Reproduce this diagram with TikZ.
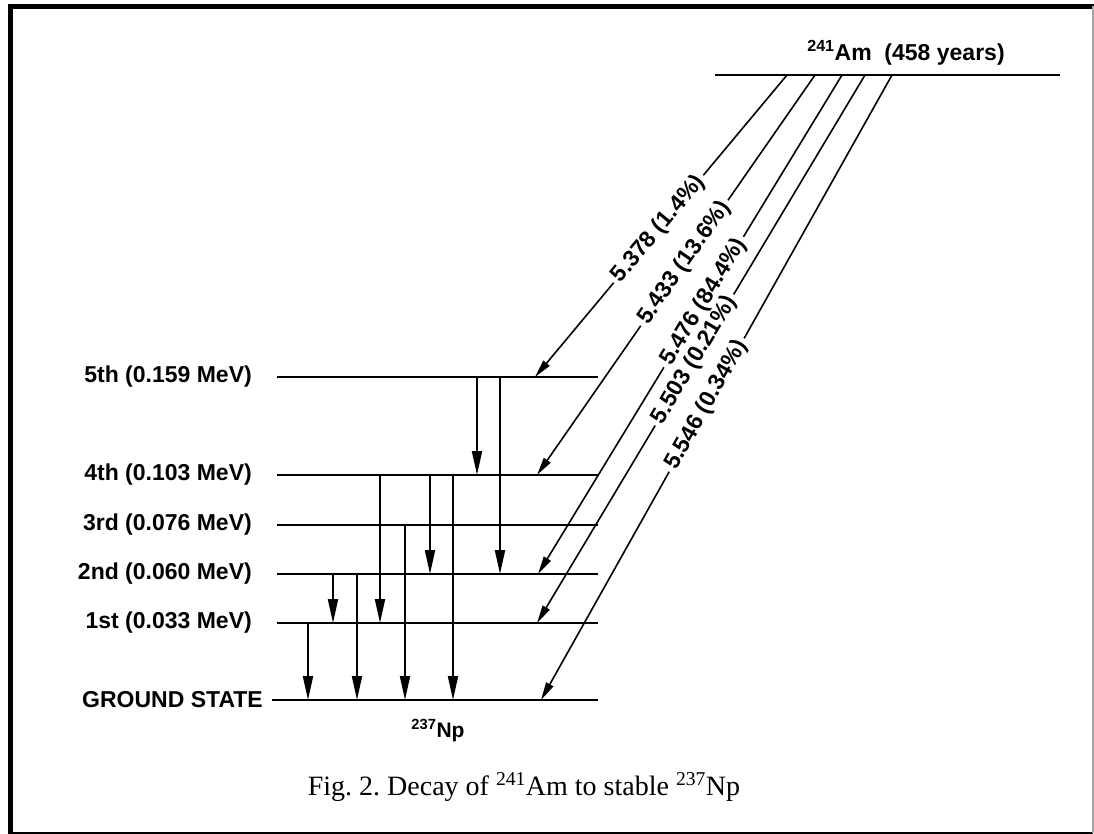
\documentclass[tikz,border=0pt]{standalone}
\usepackage{fontspec}
\setsansfont{Liberation Sans}
\setmainfont{Liberation Serif}
\usetikzlibrary{arrows.meta}
\tikzset{
	level/.style={line width=2pt},
	gam/.style={line width=2pt, -{Triangle[length=24pt,width=10pt]}},
	alf/.style={line width=1.6pt, -{Triangle[length=18pt,width=8pt]}},
	lab/.style={font=\sffamily\bfseries\fontsize{23}{26}\selectfont, inner sep=0pt},
	elab/.style={lab, sloped, inner xsep=4pt}
}
\frenchspacing
\begin{document}
\begin{tikzpicture}[x=1pt, y=-1pt]
		\useasboundingbox (0,0) rectangle (1094,834);
		\draw[line width=5pt] (10,834) -- (10,6.5) -- (1094,6.5);
		\draw[line width=2pt] (10,833) -- (1093,833);
		\draw[line width=1.5pt, black!35] (1093,833) -- (1093,6.5);
		
		\foreach \n/\y/\t in {5/377/5th (0.159 MeV), 4/475/4th (0.103 MeV), 3/525/3rd (0.076 MeV), 2/574/2nd (0.060 MeV), 1/623/1st (0.033 MeV)} {
			\coordinate (L\n) at (277,\y);
			\coordinate (R\n) at (598,\y);
			\draw[level] (L\n) -- (R\n);
			\node[lab, anchor=east] (t\n) at (252,\y) {\t};
		}
		\coordinate (L0) at (277,700);
		\coordinate (R0) at (598,700);
		\draw[level] ([xshift=-5pt]L0) -- (R0);
		\node[lab, anchor=east] (t0) at (263,700) {GROUND STATE};
		\node[lab, font=\sffamily\bfseries\fontsize{21}{24}\selectfont, anchor=base] (np) at (438,737) {\textsuperscript{237}Np};
		
		\coordinate (AmW) at (715,75);
		\coordinate (AmE) at (1060,75);
		\draw[level] (AmW) -- (AmE);
		\node[lab, anchor=base] (am) at (906,61) {\textsuperscript{241}Am\ \ (458 years)};
		
		\foreach \i/\xs/\n/\xe/\p/\t in {1/787/5/535/0.51/5.378 (1.4\%), 2/815/4/537/0.47/5.433 (13.6\%), 3/842/2/538/0.455/5.476 (84.4\%), 4/865/1/537/0.52/5.503 (0.21\%), 5/892/0/541/0.528/5.546 (0.34\%)} {
			\coordinate (A\i) at (\xs,75);
			\coordinate (B\i) at ([xshift={\xe-277}]L\n);
			\path (A\i) -- node[elab, pos=\p] (d\i) {\t} (B\i);
			\draw[line width=1.6pt] (A\i) -- (d\i.east);
			\draw[alf] (d\i.west) -- (B\i);
		}
		
		\foreach \x/\a/\b in {477/5/4, 500/5/2, 380/4/1, 430/4/2, 453/4/0, 405/3/0, 333/2/1, 357/2/0, 308/1/0}
			\draw[gam] ([xshift={\x-277}]L\a) -- ([xshift={\x-277}]L\b);
		
		\node[font=\rmfamily\fontsize{28}{32}\selectfont, anchor=base] (cap) at (524,795) {Fig. 2. Decay of \textsuperscript{241}Am to stable \textsuperscript{237}Np};
		
	\end{tikzpicture}
\end{document}
